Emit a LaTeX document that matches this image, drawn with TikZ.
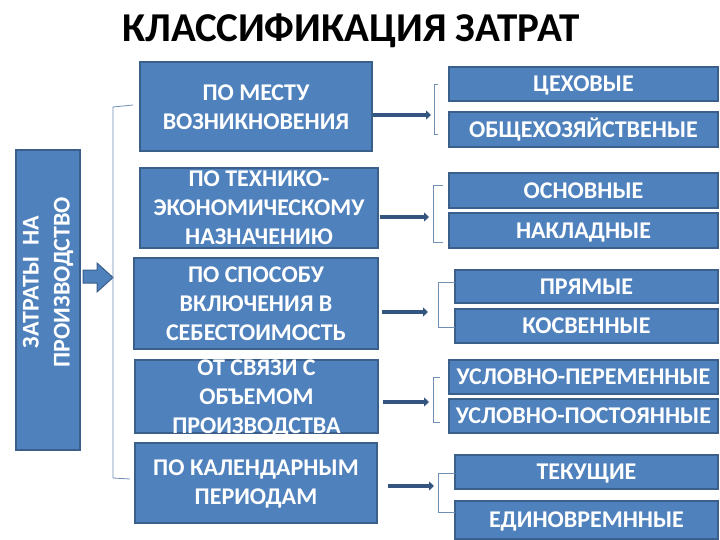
\documentclass[tikz,border=0pt]{standalone}
\usepackage{fontspec}
\setmainfont{Carlito}
\usetikzlibrary{arrows.meta,calc}
\definecolor{boxblue}{HTML}{4F81BD}
\definecolor{boxedge}{HTML}{3A5F8B}
\definecolor{arrowblue}{HTML}{34557F}
\definecolor{bracketc}{HTML}{6F8FB5}
\tikzset{
  bluebox/.style={draw=boxedge, line width=1.2pt, fill=boxblue, inner sep=0pt},
  boxtext/.style={text=white, font=\bfseries\fontsize{24}{29}\selectfont, align=center, inner sep=0pt},
  onetext/.style={boxtext, text height=15.5pt, text depth=0pt},
  conn/.style={draw=arrowblue, line width=3.5pt, -{Triangle[length=5pt,width=9pt]}},
  brace/.style={draw=bracketc, line width=0.8pt},
}
\begin{document}
\begin{tikzpicture}[x=1pt,y=-1pt]
\useasboundingbox (0,0) rectangle (720,540);
% title
\node[font=\bfseries\fontsize{41}{41}\selectfont, inner sep=0pt] (title) at (351,31) {КЛАССИФИКАЦИЯ ЗАТРАТ};
% left vertical box
\node[bluebox, minimum width=64pt, minimum height=300pt] (L) at (48,300) {};
\node[boxtext, rotate=90, font=\bfseries\fontsize{24}{31}\selectfont] (Lt) at (48,282) {ЗАТРАТЫ\ \ НА\\ПРОИЗВОДСТВО};
% block arrow
\draw[draw=boxedge, line width=1pt, fill=boxblue] (83,270) -- (97,270) -- (97,263) -- (113,277.5) -- (97,292) -- (97,283) -- (83,283) -- cycle;
% big bracket
\draw[brace] (133,105) -- (113,107) -- (113,478) -- (130,479);
% left column boxes
\node[bluebox, minimum width=232pt, minimum height=89pt] (b1) at (256,106.5) {};
\node[boxtext] (t1) at (256,107) {ПО МЕСТУ\\ВОЗНИКНОВЕНИЯ};
\node[bluebox, minimum width=238pt, minimum height=80pt] (b2) at (259,208) {};
\node[boxtext] (t2) at (259,208) {ПО ТЕХНИКО-\\ЭКОНОМИЧЕСКОМУ\\НАЗНАЧЕНИЮ};
\node[bluebox, minimum width=244pt, minimum height=91pt] (b3) at (256,303.5) {};
\node[boxtext] (t3) at (256,303.5) {ПО СПОСОБУ\\ВКЛЮЧЕНИЯ В\\СЕБЕСТОИМОСТЬ};
\node[bluebox, minimum width=243pt, minimum height=73pt] (b4) at (256.5,396.5) {};
\node[boxtext] (t4) at (256.5,398) {ОТ СВЯЗИ С\\ОБЪЕМОМ\\ПРОИЗВОДСТВА};
\node[bluebox, minimum width=242pt, minimum height=80pt] (b5) at (256,483) {};
\node[boxtext] (t5) at (256,484) {ПО КАЛЕНДАРНЫМ\\ПЕРИОДАМ};
% right column boxes
\node[bluebox, minimum width=269pt, minimum height=34pt] (r1) at (583.5,84) {};
\node[onetext] (s1) at (r1) {ЦЕХОВЫЕ};
\node[bluebox, minimum width=269pt, minimum height=35pt] (r2) at (583.5,129.5) {};
\node[onetext] (s2) at (r2) {ОБЩЕХОЗЯЙСТВЕНЫЕ};
\node[bluebox, minimum width=269pt, minimum height=35pt] (r3) at (583.5,190.5) {};
\node[onetext] (s3) at (r3) {ОСНОВНЫЕ};
\node[bluebox, minimum width=269pt, minimum height=35pt] (r4) at (583.5,230.5) {};
\node[onetext] (s4) at (r4) {НАКЛАДНЫЕ};
\node[bluebox, minimum width=263pt, minimum height=33pt] (r5) at (586.5,286.5) {};
\node[onetext] (s5) at (r5) {ПРЯМЫЕ};
\node[bluebox, minimum width=263pt, minimum height=34pt] (r6) at (586.5,326) {};
\node[onetext] (s6) at (r6) {КОСВЕННЫЕ};
\node[bluebox, minimum width=269pt, minimum height=34pt] (r7) at (583.5,377) {};
\node[onetext] (s7) at (r7) {УСЛОВНО-ПЕРЕМЕННЫЕ};
\node[bluebox, minimum width=269pt, minimum height=34pt] (r8) at (583.5,416) {};
\node[onetext] (s8) at (r8) {УСЛОВНО-ПОСТОЯННЫЕ};
\node[bluebox, minimum width=263pt, minimum height=34pt] (r9) at (586.5,472) {};
\node[onetext] (s9) at (r9) {ТЕКУЩИЕ};
\node[bluebox, minimum width=263pt, minimum height=38pt] (r10) at (586.5,520) {};
\node[onetext] (s10) at (r10) {ЕДИНОВРЕМННЫЕ};
% small brackets
\draw[brace] (438,84) -- (434,84) -- (434,134) -- (438,134);
\draw[brace] (443,185) -- (433,185) -- (433,242) -- (443,242);
\draw[brace] (455,282) -- (438,282) -- (438,327) -- (455,327);
\draw[brace] (440,377) -- (433,377) -- (433,422) -- (440,422);
\draw[brace] (455,473) -- (438,473) -- (438,512) -- (455,512);
% bracket entry points
\coordinate (k1) at (431,115);
\coordinate (k2) at (429,217);
\coordinate (k3) at (428,312);
\coordinate (k4) at (429,402);
\coordinate (k5) at (434,486);
% connectors
\draw[conn] (b1.east |- k1) -- (k1);
\draw[conn] ($(b2.east |- k2)+(1,0)$) -- (k2);
\draw[conn] ($(b3.east |- k3)+(3,0)$) -- (k3);
\draw[conn] ($(b4.east |- k4)+(4,0)$) -- (k4);
\draw[conn] ($(b5.east |- k5)+(10,0)$) -- (k5);
\end{tikzpicture}
\end{document}
